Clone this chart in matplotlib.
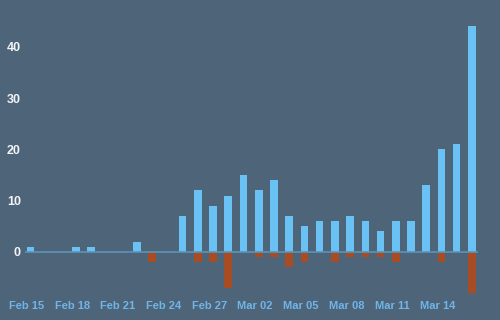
import datetime
import matplotlib
matplotlib.use("Agg")
import matplotlib.pyplot as plt

# daily counts, Feb 15 .. Mar 16
start = datetime.date(2021, 2, 15)
ups = [1, 0, 0, 1, 1, 0, 0, 2, 0, 0, 7, 12, 9, 11, 15,
       12, 14, 7, 5, 6, 6, 7, 6, 4, 6, 6, 13, 20, 21, 44]
downs = [0, 0, 0, 0, 0, 0, 0, 0, -2, 0, 0, -2, -2, -7, 0,
         -1, -1, -3, -2, 0, -2, -1, -1, -1, -2, 0, 0, -2, 0, -8]
days = [start + datetime.timedelta(days=i) for i in range(len(ups))]
tick_labels = [d.strftime("%b %d") for d in days]

bg = "#4e6479"
plt.rcParams['font.family'] = ['Liberation Sans', 'DejaVu Sans']

fig = plt.figure(figsize=(5, 3.2), dpi=100, facecolor=bg)
ax = fig.add_axes([0.05, 0.075, 0.906, 0.894])
ax.set_facecolor(bg)

x = list(range(len(ups)))
ax.bar(x, ups, width=0.5, color="#6ac1f3", zorder=2)
ax.bar(x, downs, width=0.5, color="#a84c26", zorder=2)
ax.axhline(0, color="#5c93ba", linewidth=1.2, zorder=3)

ax.set_xlim(-0.35, 29.4)
ax.set_ylim(-8.6, 47.2)

ax.set_yticks([0, 10, 20, 30, 40])
ax.set_xticks([i - 0.25 for i in x[::3]])
ax.set_xticklabels(tick_labels[::3])

for s in ax.spines.values():
    s.set_visible(False)
ax.tick_params(axis='both', length=0)
ax.tick_params(axis='y', colors="#f2f4f6", labelsize=9, pad=3)
ax.tick_params(axis='x', colors="#6fb5e8", labelsize=8, pad=3.5)
for lbl in ax.get_xticklabels() + ax.get_yticklabels():
    lbl.set_fontweight('bold')

fig.savefig("out.png", dpi=100, facecolor=bg)
